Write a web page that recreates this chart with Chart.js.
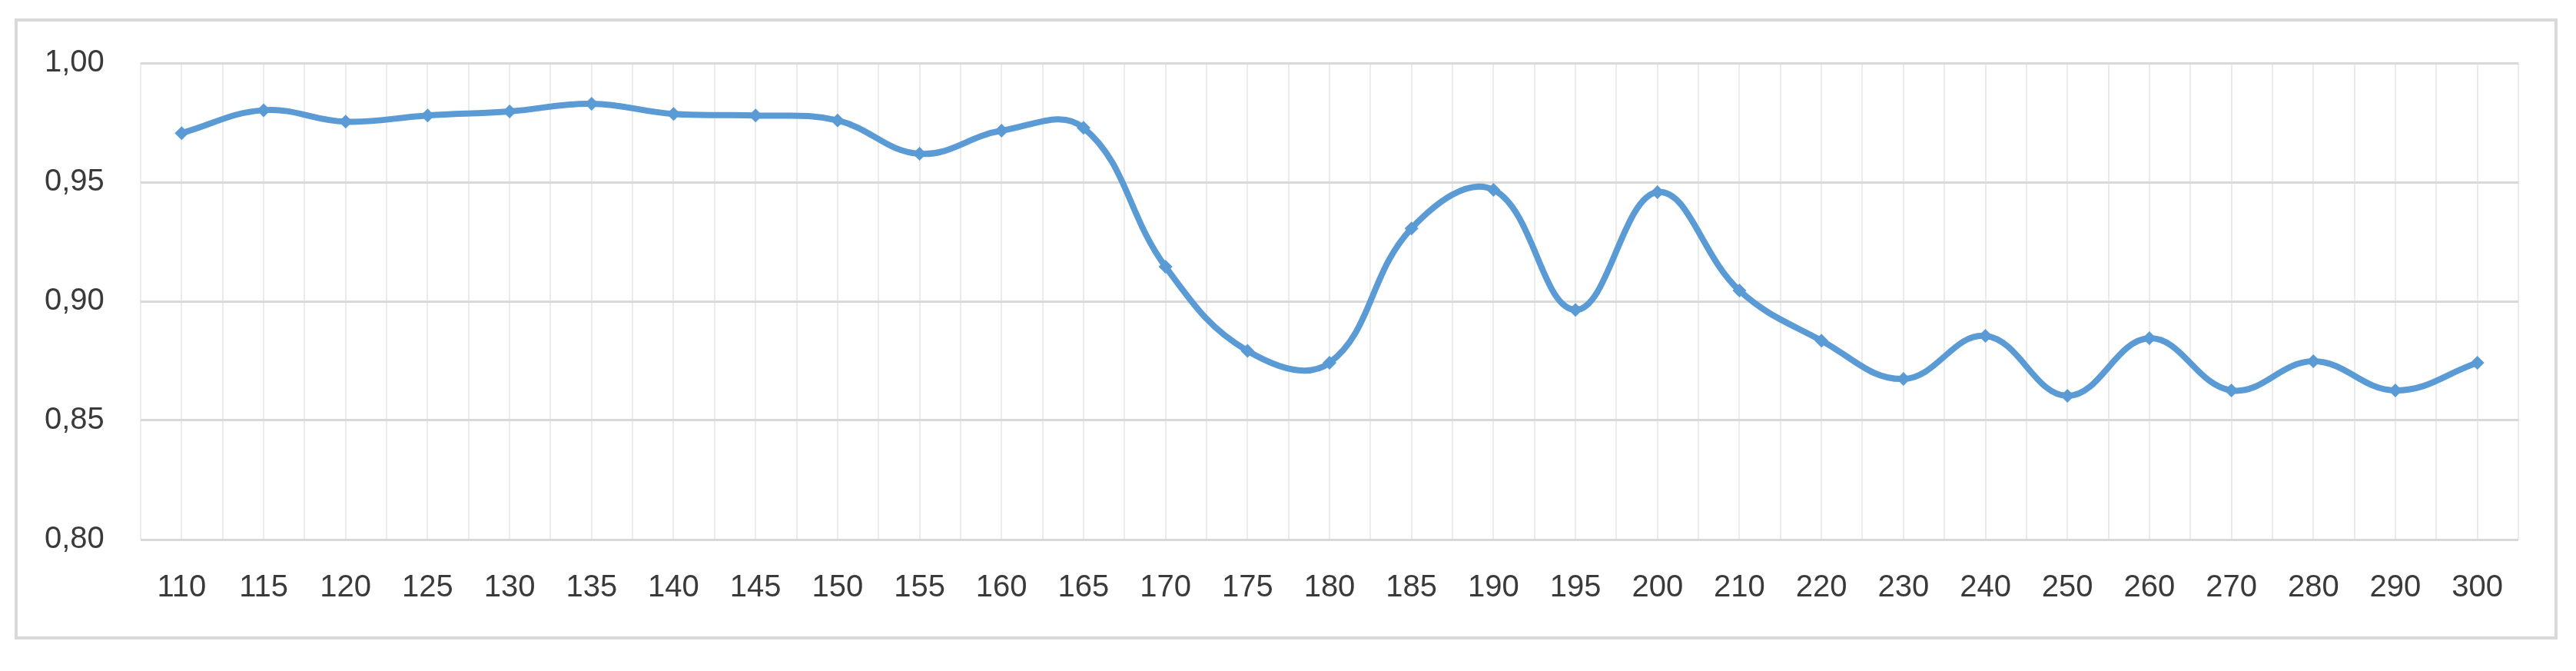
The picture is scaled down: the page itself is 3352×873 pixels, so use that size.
<!DOCTYPE html>
<html>
<head>
<meta charset="utf-8">
<script src="https://cdn.jsdelivr.net/npm/chart.js@4"></script>
<style>
  html, body { margin: 0; padding: 0; background: #ffffff; }
  #frame {
    position: absolute;
    left: 19px;
    top: 24px;
    width: 3309px;
    height: 808px;
    border: 4px solid #d9d9d9;
    box-sizing: border-box;
    background: #ffffff;
  }
  #chart { display: block; }
</style>
</head>
<body>
<div id="frame"><canvas id="chart" width="3301" height="800"></canvas></div>
<script>
const categories = [
  "110", "115", "120", "125", "130", "135", "140", "145", "150", "155",
  "160", "165", "170", "175", "180", "185", "190", "195", "200", "210",
  "220", "230", "240", "250", "260", "270", "280", "290", "300"
];
const values = [
  0.9706, 0.9802, 0.9754, 0.978, 0.9797, 0.9829, 0.9786, 0.978, 0.9759, 0.9619,
  0.9716, 0.9728, 0.9145, 0.8792, 0.8742, 0.9306, 0.9468, 0.8964, 0.9458, 0.9045,
  0.8835, 0.8674, 0.8855, 0.8603, 0.8845, 0.8626, 0.8748, 0.8626, 0.8742
];
const yMin = 0.8;
const yMax = 1.0;
const yStep = 0.05;

const lineBlue = "#5b9bd5";
const textColor = "#3a3a3a";
const font = { family: "'Liberation Sans', Arial, sans-serif", size: 40 };

const ctx = document.getElementById("chart").getContext("2d");
new Chart(ctx, {
  type: "line",
  data: {
    labels: categories,
    datasets: [
      {
        data: values,
        borderColor: lineBlue,
        backgroundColor: lineBlue,
        borderWidth: 8,
        tension: 0.4,
        pointStyle: "rectRot",
        pointRadius: 9,
        pointBorderWidth: 0,
        pointBackgroundColor: lineBlue,
        clip: false,
      },
    ],
  },
  options: {
    responsive: false,
    animation: false,
    layout: { padding: { left: 35, top: 54, right: 47, bottom: 0 } },
    plugins: {
      legend: { display: false },
      tooltip: { enabled: false },
    },
    scales: {
      x: {
        type: "category",
        offset: true,
        grid: { offset: true, color: "#ebebeb", lineWidth: 2, drawTicks: false },
        border: { display: false },
        ticks: { color: textColor, font, padding: 39, maxRotation: 0, autoSkip: false },
      },
      x2: {
        type: "category",
        labels: categories,
        position: "bottom",
        offset: true,
        grid: { offset: false, color: "#ebebeb", lineWidth: 2, drawTicks: false },
        border: { display: false },
        ticks: { display: false },
      },
      y: {
        min: yMin,
        max: yMax,
        grid: { color: "#d9d9d9", lineWidth: 3, drawTicks: false },
        border: { display: false },
        ticks: {
          stepSize: yStep,
          padding: 0,
          crossAlign: "far",
          color: textColor,
          font,
          callback: (v) => v.toFixed(2).replace(".", ","),
        },
        afterFit: (scale) => {
          scale.width = 125;
        },
      },
    },
  },
});
</script>
</body>
</html>
